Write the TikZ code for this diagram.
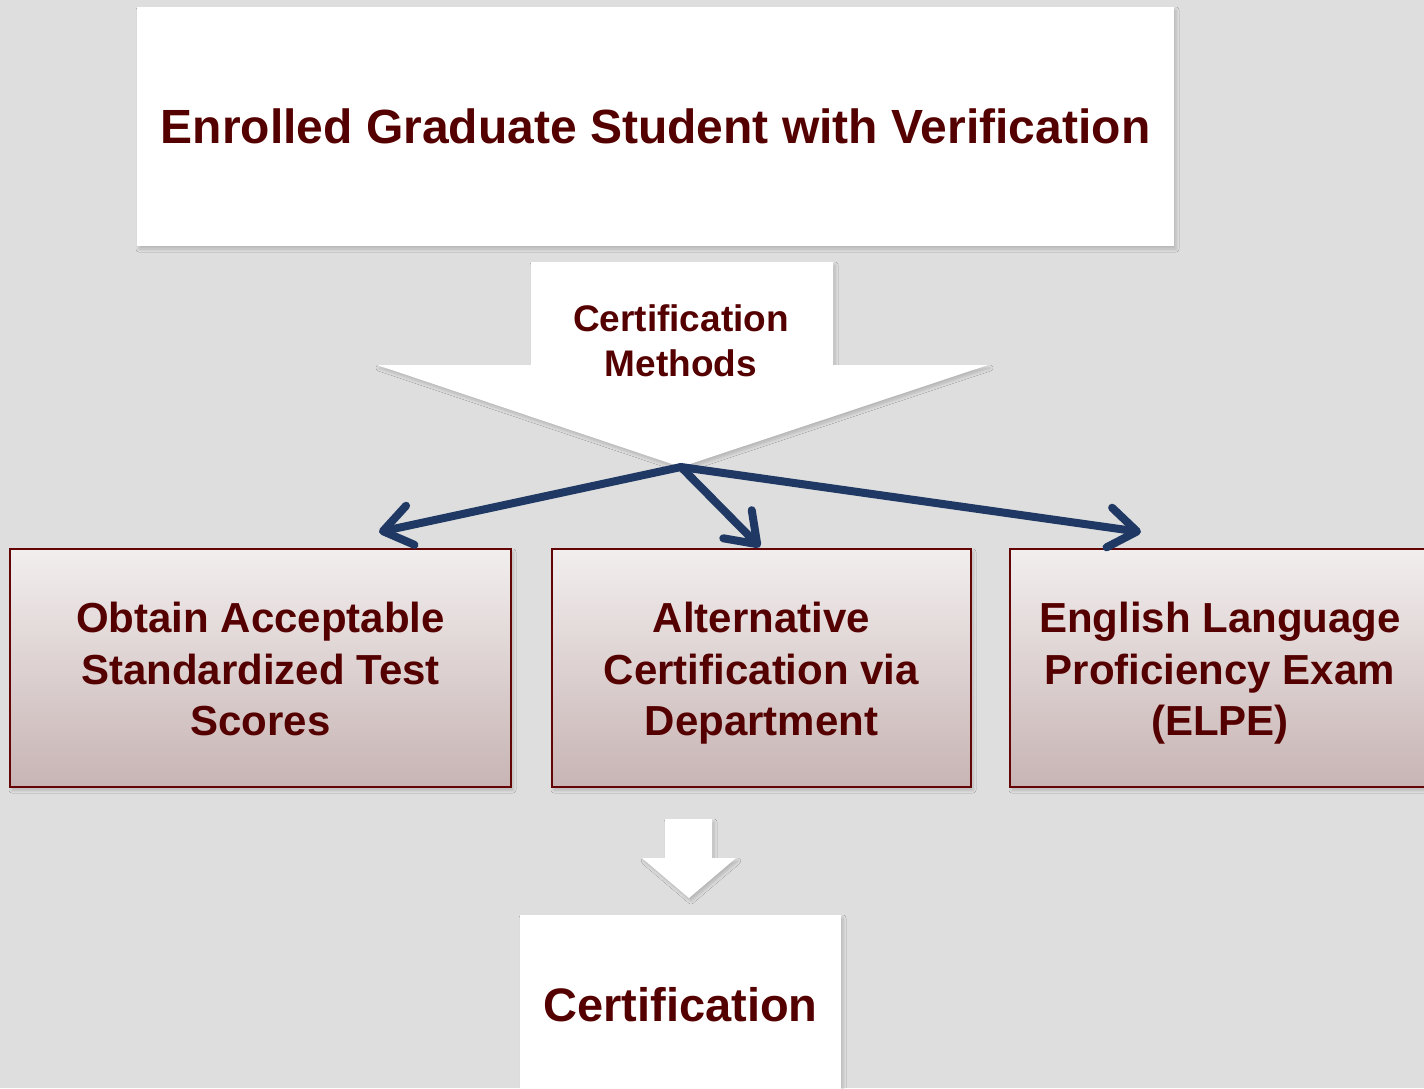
\documentclass[tikz,border=0pt]{standalone}
\usepackage{fontspec}
\setmainfont{Liberation Sans}
\usetikzlibrary{arrows.meta,shadows.blur}
\definecolor{bgc}{RGB}{222,222,222}
\definecolor{txtred}{RGB}{85,0,0}
\definecolor{edgered}{RGB}{100,5,5}
\definecolor{navy}{RGB}{31,56,100}
\definecolor{boxtop}{RGB}{242,238,238}
\definecolor{boxbot}{RGB}{200,180,180}
\newcommand{\topstr}{\rule{0pt}{41.5pt}}
\newcommand{\botstr}{\vphantom{p(}}
\tikzset{
  softshadow/.style={blur shadow={shadow xshift=2pt,shadow yshift=-3pt,shadow blur radius=3pt,shadow blur steps=6,shadow opacity=18}},
  whitebox/.style={rectangle,fill=white,draw=none,softshadow,inner sep=0pt,text=txtred},
  methodbox/.style={rectangle,top color=boxtop,bottom color=boxbot,draw=edgered,line width=2pt,
    softshadow,inner sep=0pt,minimum height=238pt,text=txtred,align=center,
    font=\bfseries\fontsize{42}{51.5}\selectfont},
  link/.style={draw=navy,line width=8pt,line cap=round,
    -{Straight Barb[length=28pt,width=40pt,line cap=round,line join=round]}},
  bigarrow/.style={fill=white,softshadow}
}
\begin{document}
\begin{tikzpicture}[x=1pt,y=-1pt]
\useasboundingbox (0,0) rectangle (1424,1088);
\clip (0,0) rectangle (1424,1088);
\fill[bgc] (0,0) rectangle (1424,1088);

% top box
\node[whitebox,minimum width=1037pt,minimum height=239pt,font=\bfseries\fontsize{48}{56}\selectfont]
  (top) at (655.5,126.5) {Enrolled Graduate Student with Verification};

% big arrow shape
\path[bigarrow] (531,262) -- (833,262) -- (833,365) -- (988,365) -- (681,467) -- (377,365) -- (531,365) -- cycle;
\node[text=txtred,align=center,font=\bfseries\fontsize{37}{45}\selectfont] (meth) at (681,341) {Certification\\Methods};
\coordinate (tip) at (681,467);

% method boxes
\node[methodbox,minimum width=501pt] (b1) at (260.5,668) {\topstr Obtain Acceptable\\Standardized Test\\Scores\botstr};
\node[methodbox,minimum width=419pt] (b2) at (761.5,668) {\topstr Alternative\\Certification via\\Department\botstr};
\node[methodbox,minimum width=420pt] (b3) at (1220,668) {\topstr English Language\\Proficiency Exam\\(ELPE)\botstr};

% connectors
\draw[link] (tip) -- ([xshift=-133pt,yshift=16pt]b1.north east);
\draw[link] (tip) -- ([xshift=-1.5pt,yshift=1pt]b2.north);
\draw[link] (tip) -- ([xshift=132pt,yshift=16pt]b3.north west);

% small arrow
\path[bigarrow] (665,819) -- (712,819) -- (712,858) -- (736,858) -- (689,898) -- (642,858) -- (665,858) -- cycle;

% certification box
\node[whitebox,minimum width=321pt,minimum height=180pt,font=\bfseries\fontsize{47}{56}\selectfont]
  (cert) at (680.5,1005) {Certification};
\end{tikzpicture}
\end{document}
